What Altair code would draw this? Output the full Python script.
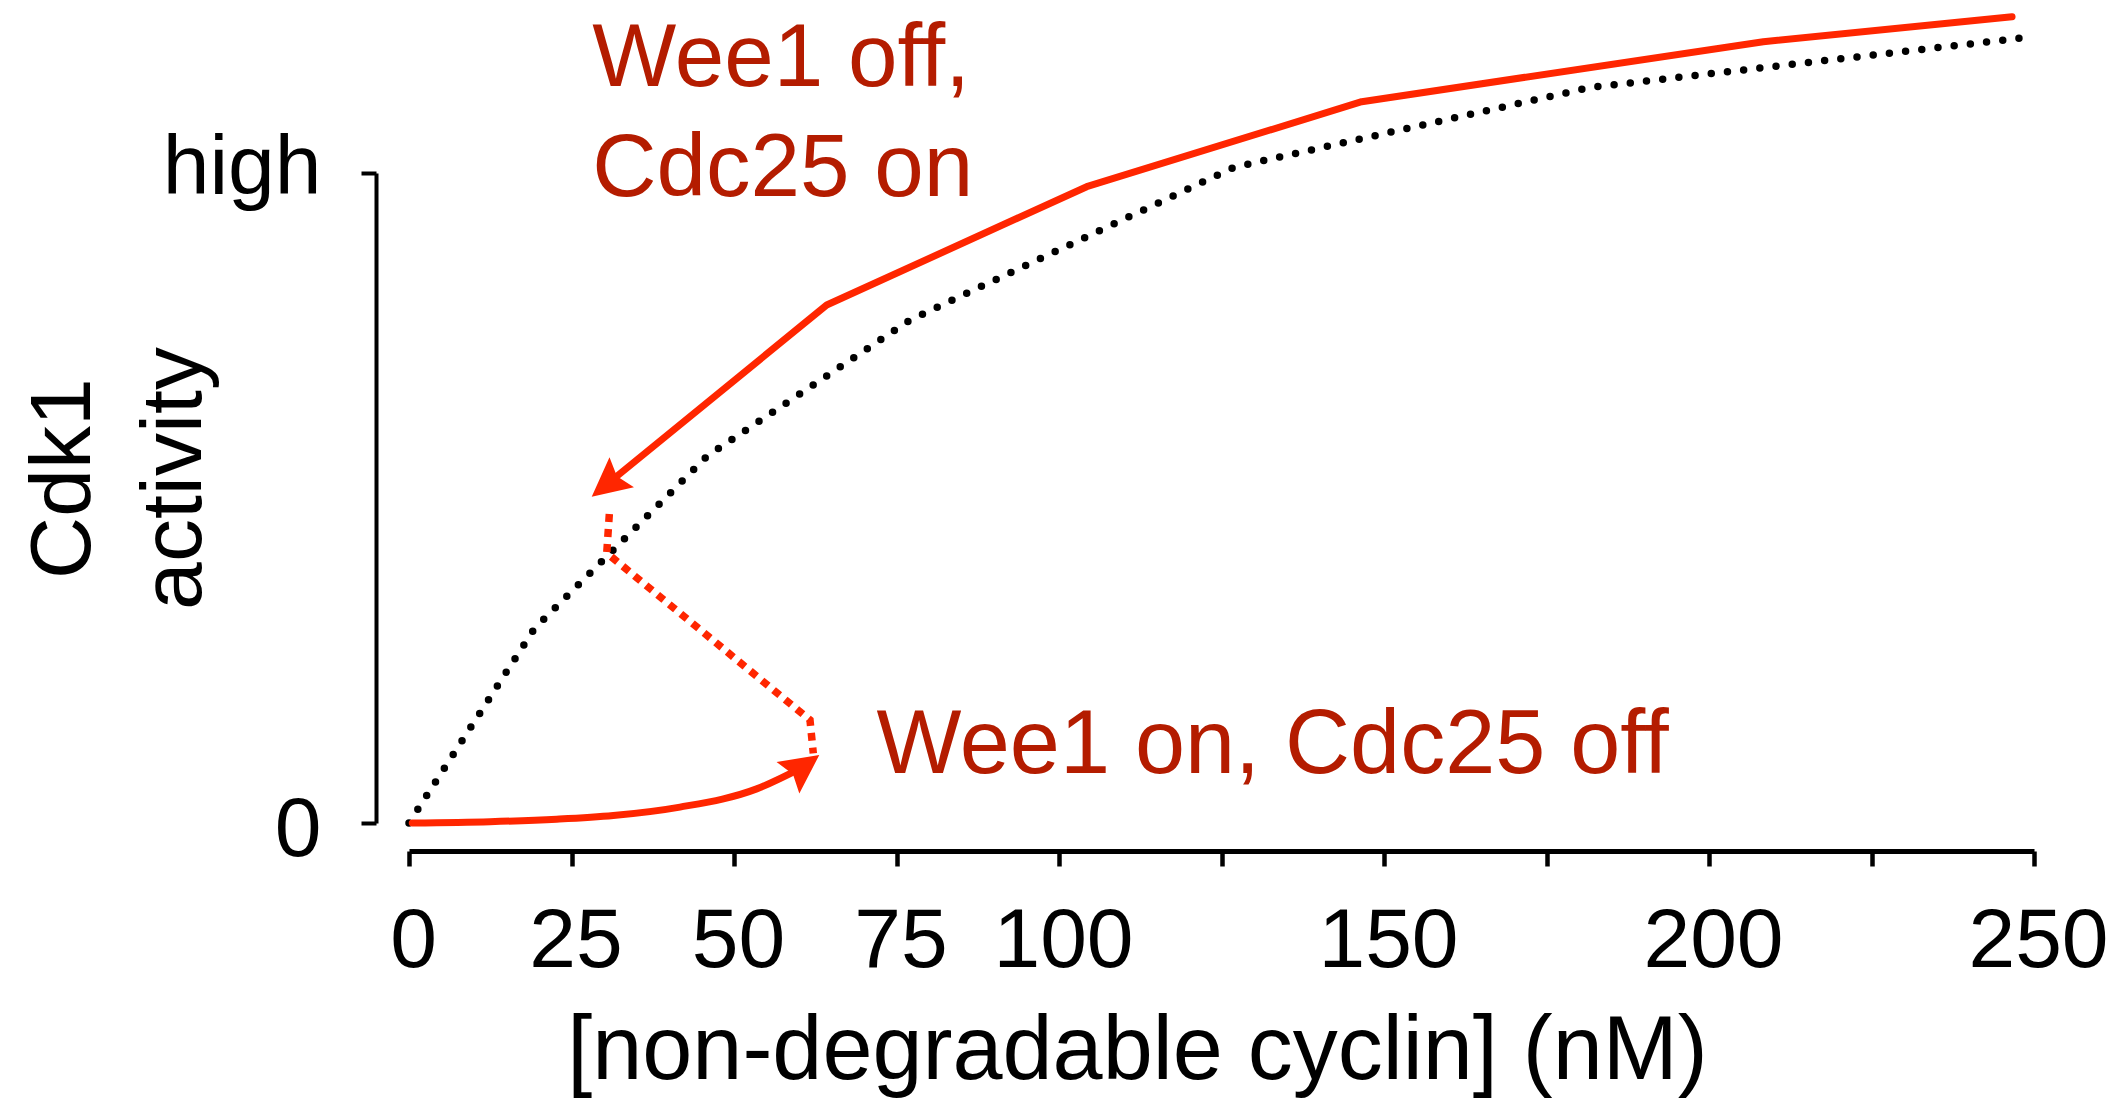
import altair as alt
import pandas as pd

RED = "#FF2600"
DARK_RED = "#B41C00"
FONT = "Liberation Sans"

# ---- axis ticks / labels ----
x_ticks = [0, 25, 50, 75, 100, 125, 150, 175, 200, 225, 250]
x_hidden_labels = [125, 175, 225]
y_ticks = [0, 1]
y_tick_labels = ["0", "high"]

# ---- series (x: nM cyclin, y: Cdk1 activity, 1 = "high") ----
# unstable / steady-state curve (black dotted)
unstable_x = [0, 19.28, 45.89, 77.08, 126.92, 181.69, 247.69]
unstable_y = [0, 0.2989, 0.5646, 0.7738, 1.0088, 1.1315, 1.2072]
# upper branch, Wee1 off / Cdc25 on (red solid, arrow toward low cyclin)
upper_x = [30.2, 64.26, 104.26, 146.57, 208.35, 246.62]
upper_y = [0.5190, 0.7969, 0.9789, 1.1097, 1.2020, 1.2405]
# lower branch, Wee1 on / Cdc25 off (red solid, arrow toward high cyclin)
lower_x = [0.5, 12.46, 22.72, 31.43, 41.69, 53.49, 60.6]
lower_y = [0.0, 0.002, 0.0058, 0.0115, 0.0245, 0.0525, 0.086]
# jump connector (red dotted)
jump_x = [30.82, 30.42, 61.69, 62.2]
jump_y = [0.4754, 0.4154, 0.1585, 0.1072]
# arrow heads
arrow_x = [28.11, 63.12]
arrow_y = [0.502, 0.1046]
arrow_angle = [230.8, 54]
# annotations
label_text = ["Wee1 off,", "Cdc25 on", "Wee1 on, Cdc25 off"]
label_x = [28.2, 28.2, 71.92]
label_y = [1.1338, 0.9646, 0.0774]
label_size = [89, 89, 90]

ARROW_PATH = "M0,0 L0.5,1 L0,0.84 L-0.5,1 Z"


def frame(xs, ys):
    return pd.DataFrame({"x": xs, "y": ys, "i": list(range(len(xs)))})


label_hide = " || ".join(f"datum.value == {v}" for v in x_hidden_labels)

xenc = alt.X(
    "x:Q",
    scale=alt.Scale(domain=[0, 250], nice=False, zero=False),
    axis=alt.Axis(
        values=x_ticks,
        labelExpr=f"({label_hide}) ? '' : datum.label",
        title="[non-degradable cyclin] (nM)",
        titleFont=FONT,
        titleFontSize=90,
        titleFontWeight="normal",
        titleColor="black",
        titleAlign="center",
        titleBaseline="alphabetic",
        titleX=728,
        titleY=227,
        labelFont=FONT,
        labelFontSize=84,
        labelColor="black",
        labelFlush=False,
        labelOverlap=False,
        labelPadding=34,
        labelOffset=4,
        offset=28,
        grid=False,
        domainColor="black",
        domainWidth=5,
        tickColor="black",
        tickWidth=4.5,
        tickSize=15,
    ),
)

yenc = alt.Y(
    "y:Q",
    scale=alt.Scale(domain=[0, 1], nice=False, zero=False),
    axis=alt.Axis(
        values=y_ticks,
        labelExpr=f"datum.value == 1 ? '{y_tick_labels[1]}' : '{y_tick_labels[0]}'",
        title=["Cdk1", "activity"],
        titleFont=FONT,
        titleFontSize=86,
        titleFontWeight="normal",
        titleColor="black",
        titleAngle=270,
        titleAlign="center",
        titleBaseline="alphabetic",
        titleLineHeight=111,
        titleX=-287,
        titleY=305,
        labelFont=FONT,
        labelFontSize=84,
        labelColor="black",
        labelAlign="right",
        labelBaseline="alphabetic",
        labelOffset={"condition": {"test": "datum.value == 1", "value": 20}, "value": 32},
        labelPadding=40,
        labelFlush=False,
        labelOverlap=False,
        offset=33,
        grid=False,
        domainColor="black",
        domainWidth=4,
        tickColor="black",
        tickWidth=4,
        tickSize=15,
    ),
)

unstable = alt.Chart(frame(unstable_x, unstable_y)).mark_line(
    color="black", strokeWidth=7.5, strokeCap="round", strokeDash=[0, 16.3]
).encode(x=xenc, y=yenc, order=alt.Order("i:Q"))

jump = alt.Chart(frame(jump_x, jump_y)).mark_line(
    color=RED, strokeWidth=7.5, strokeCap="butt", strokeDash=[8, 7]
).encode(x=xenc, y=yenc, order=alt.Order("i:Q"))

lower = alt.Chart(frame(lower_x, lower_y)).mark_line(
    color=RED, strokeWidth=7, strokeCap="round", interpolate="monotone"
).encode(x=xenc, y=yenc, order=alt.Order("i:Q"))

upper = alt.Chart(frame(upper_x, upper_y)).mark_line(
    color=RED, strokeWidth=7, strokeCap="round", strokeJoin="round"
).encode(x=xenc, y=yenc, order=alt.Order("i:Q"))

arrows = alt.Chart(
    pd.DataFrame({"x": arrow_x, "y": arrow_y, "a": arrow_angle})
).mark_point(
    shape=ARROW_PATH, filled=True, size=6000, color=RED, opacity=1, strokeWidth=0
).encode(x=xenc, y=yenc, angle=alt.Angle("a:Q", scale=None))

labels = alt.Chart(
    pd.DataFrame({"x": label_x, "y": label_y, "t": label_text, "s": label_size})
).mark_text(
    align="left", baseline="alphabetic", font=FONT, color=DARK_RED
).encode(x=xenc, y=yenc, text="t:N", size=alt.Size("s:Q", scale=None))

chart = alt.layer(unstable, jump, lower, upper, arrows, labels).properties(
    width=1625,
    height=650,
    autosize="none",
    padding={"left": 409, "top": 173, "right": 89, "bottom": 277},
    background="white",
).configure_view(stroke=None)

chart.save("out.html", embed_options={"renderer": "svg", "actions": False})
